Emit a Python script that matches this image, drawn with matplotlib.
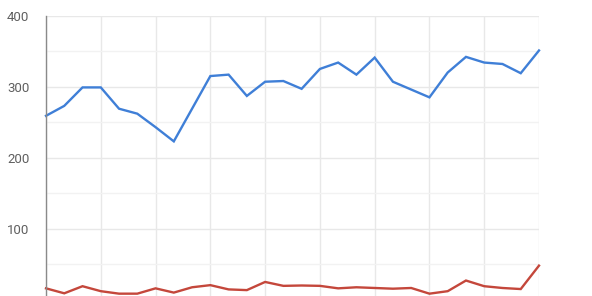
import matplotlib
matplotlib.use("Agg")
import matplotlib.pyplot as plt
from matplotlib.ticker import MultipleLocator

blue_values = [259, 273, 299, 299, 269, 262, 243, 223, 269, 315, 317, 287, 307, 308,
               297, 325, 334, 317, 341, 307, 296, 285, 320, 342, 334, 332, 319, 351]
red_values = [16, 9, 19, 12, 8.5, 8.5, 16, 10, 17.5, 20.5, 14.5, 13.5, 25, 19.5,
              20, 19.5, 16, 17.5, 16.5, 15.5, 16.5, 8.5, 12, 27, 19, 16.5, 15, 48]
x = list(range(len(blue_values)))
y_ticks = [0, 100, 200, 300, 400]

plt.rcParams['font.family'] = ['Roboto', 'DejaVu Sans']
fig = plt.figure(figsize=(5.92, 2.96), dpi=100)
ax = fig.add_axes([46/592, (296-299.7)/296, 493/592, 284/296])

ax.set_xlim(0, len(x) - 1)
ax.set_ylim(0, 400)
ax.set_yticks(y_ticks)
ax.set_yticklabels([str(t) for t in y_ticks])
ax.yaxis.set_minor_locator(MultipleLocator(50))
ax.xaxis.set_major_locator(MultipleLocator(3))
ax.set_xticklabels([])

ax.grid(True, which='major', axis='both', color='#e8e8e8', linewidth=1.0)
ax.grid(True, which='minor', axis='y', color='#f2f2f2', linewidth=1.0)
ax.set_axisbelow(True)

for s in ['top', 'right', 'bottom']:
    ax.spines[s].set_visible(False)
ax.spines['left'].set_color('#8a8a8a')
ax.spines['left'].set_linewidth(1.0)

ax.tick_params(axis='both', which='both', length=0)
ax.tick_params(axis='y', labelsize=9.5, labelcolor='#5f5f5f', pad=12)

ax.plot(x, blue_values, color='#3f7fd7', linewidth=1.7, solid_joinstyle='miter', clip_on=False)
ax.plot(x, red_values, color='#c4473b', linewidth=1.7, solid_joinstyle='miter', clip_on=False)

fig.savefig('out.png', dpi=100)
